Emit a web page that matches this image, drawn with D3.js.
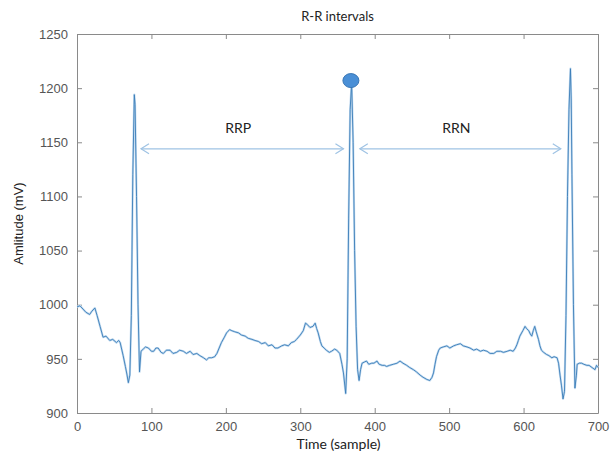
<!DOCTYPE html>
<html>
<head>
<meta charset="utf-8">
<script src="https://cdn.jsdelivr.net/npm/d3@7"></script>
<style>
  body { margin: 0; background: #fff; }
  .axis text { font-family: "Liberation Sans", Arial, sans-serif; font-size: 13px; fill: #555; }
  .axis path, .axis line { stroke: #8a8a8a; }
  .lbl { font-family: Lato, "Open Sans", sans-serif; fill: #222; }
</style>
</head>
<body>
<div id="chart"></div>
<script>
// ECG samples (sample index, amplitude in mV)
var samples = [0,4,8,12,17,20,24,27,31,35,39,44,48,53,56,58,62,65,67,69,71,73,75,77,78,80,82,84,86,89,92,96,100,103,106,109,113,116,120,125,129,134,138,143,147,152,156,161,165,170,174,177,181,185,188,191,194,198,201,205,208,212,217,221,226,230,235,239,244,248,253,257,262,266,270,275,279,284,288,292,295,300,304,307,309,313,317,320,322,324,327,329,332,335,339,342,346,349,353,356,358,361,363,365,367,369,371,373,375,377,379,381,383,386,389,392,396,399,403,406,410,413,416,420,425,430,434,438,443,447,452,456,461,465,470,474,477,479,481,483,486,488,492,497,501,506,510,515,519,524,528,533,537,542,546,551,555,560,564,569,573,578,582,586,589,591,593,595,599,602,604,607,609,611,613,615,617,620,622,624,627,631,634,638,641,645,647,649,651,653,655,657,659,661,663,664,665,667,669,671,672,675,678,681,685,688,692,696,698,700];
var amplitude = [998,999,996,993,991,994,997,990,980,970,971,967,968,965,967,965,953,943,936,928,935,990,1120,1194,1185,1100,1000,938,957,959,961,960,957,957,960,960,956,955,958,958,955,956,958,957,955,957,954,955,953,951,949,951,951,952,955,960,965,970,974,977,976,975,974,972,971,969,968,967,966,964,965,962,963,960,960,962,963,962,965,966,968,972,976,983,982,979,980,983,978,974,966,962,960,958,956,957,959,958,955,945,937,918,950,1080,1180,1205,1150,1050,980,940,930,940,946,947,948,945,946,946,948,945,944,944,943,944,945,946,948,946,944,942,940,938,935,933,931,930,933,937,945,952,958,960,961,962,960,962,963,964,962,961,960,958,959,957,958,957,955,955,957,957,956,957,958,957,960,963,967,971,976,980,978,976,973,971,976,980,975,968,962,958,956,954,953,951,952,951,946,935,925,913,920,990,1100,1180,1218,1190,1120,1000,923,935,945,946,946,945,944,944,942,940,944,942];

var xTicks = [0,100,200,300,400,500,600,700];
var yTicks = [900,950,1000,1050,1100,1150,1200,1250];

// marked R peak and the two R-R intervals
var peakMark = [368, 1207];
var intervals = [
  {name: "RRP", from: 86, to: 358, level: 1144, labelLevel: 1163},
  {name: "RRN", from: 380, to: 650, level: 1144, labelLevel: 1163}
];

var W = 611, H = 464;
var plotL = 77, plotR = 598, plotT = 34, plotB = 413;

var xScale = d3.scaleLinear().domain([0, 700]).range([plotL, plotR]);
var yScale = d3.scaleLinear().domain([900, 1250]).range([plotB, plotT]);

var svg = d3.select("#chart").append("svg")
  .attr("width", W)
  .attr("height", H);

// box + inward ticks on all four sides
svg.append("g").attr("class", "axis")
  .attr("transform", "translate(0," + plotB + ")")
  .call(d3.axisBottom(xScale).tickValues(xTicks).tickFormat(d3.format("d")).tickSizeInner(-5).tickSizeOuter(0).tickPadding(9));
svg.append("g").attr("class", "axis")
  .attr("transform", "translate(" + plotL + ",0)")
  .call(d3.axisLeft(yScale).tickValues(yTicks).tickFormat(d3.format("d")).tickSizeInner(-5).tickSizeOuter(0).tickPadding(9));
svg.append("g").attr("class", "axis")
  .attr("transform", "translate(0," + plotT + ")")
  .call(d3.axisTop(xScale).tickValues(xTicks).tickSizeInner(-5).tickSizeOuter(0).tickFormat(""));
svg.append("g").attr("class", "axis")
  .attr("transform", "translate(" + plotR + ",0)")
  .call(d3.axisRight(yScale).tickValues(yTicks).tickSizeInner(-5).tickSizeOuter(0).tickFormat(""));

var pts = samples.map(function(s, i) { return [s, amplitude[i]]; });

var line = d3.line()
  .x(function(d) { return xScale(d[0]); })
  .y(function(d) { return yScale(d[1]); });

// soft halo under the trace, like the blurred original
svg.append("path")
  .datum(pts)
  .attr("d", line)
  .style("fill", "none")
  .style("stroke", "#c3dbf0")
  .style("stroke-width", 2.2)
  .style("stroke-linejoin", "round");

svg.append("path")
  .datum(pts)
  .attr("d", line)
  .style("fill", "none")
  .style("stroke", "#3a7db8")
  .style("stroke-width", 0.9)
  .style("stroke-linejoin", "round");

svg.append("ellipse")
  .attr("cx", xScale(peakMark[0]))
  .attr("cy", yScale(peakMark[1]))
  .attr("rx", 8)
  .attr("ry", 7)
  .style("fill", "#4a8fd6")
  .style("stroke", "#3a77b5")
  .style("stroke-width", 1);

// double headed arrows
var arrowColor = "#9fc3e4";
intervals.forEach(function(iv) {
  var x1 = xScale(iv.from), x2 = xScale(iv.to), yy = yScale(iv.level);
  var g = svg.append("g")
    .style("fill", "none")
    .style("stroke", arrowColor)
    .style("stroke-width", 1.2);
  g.append("line").attr("x1", x1).attr("x2", x2).attr("y1", yy).attr("y2", yy);
  g.append("path").attr("d", "M" + (x1 + 8) + "," + (yy - 5) + "L" + x1 + "," + yy + "L" + (x1 + 8) + "," + (yy + 5));
  g.append("path").attr("d", "M" + (x2 - 8) + "," + (yy - 5) + "L" + x2 + "," + yy + "L" + (x2 - 8) + "," + (yy + 5));

  svg.append("text")
    .attr("class", "lbl")
    .attr("x", (x1 + x2) / 2 - 4)
    .attr("y", yScale(iv.labelLevel) + 5)
    .style("text-anchor", "middle")
    .style("font-size", "14px")
    .text(iv.name);
});

svg.append("text")
  .attr("class", "lbl")
  .attr("x", (plotL + plotR) / 2)
  .attr("y", 21)
  .style("text-anchor", "middle")
  .style("font-size", "13px")
  .text("R-R intervals");

svg.append("text")
  .attr("class", "lbl")
  .attr("x", (plotL + plotR) / 2 + 1)
  .attr("y", 449)
  .style("text-anchor", "middle")
  .style("font-size", "14px")
  .text("Time (sample)");

svg.append("text")
  .attr("transform", "translate(23," + ((plotT + plotB) / 2) + ") rotate(-90)")
  .style("text-anchor", "middle")
  .style("font-family", "'Liberation Sans', Arial, sans-serif")
  .style("font-size", "13px")
  .style("fill", "#222")
  .text("Amlitude (mV)");
</script>
</body>
</html>
